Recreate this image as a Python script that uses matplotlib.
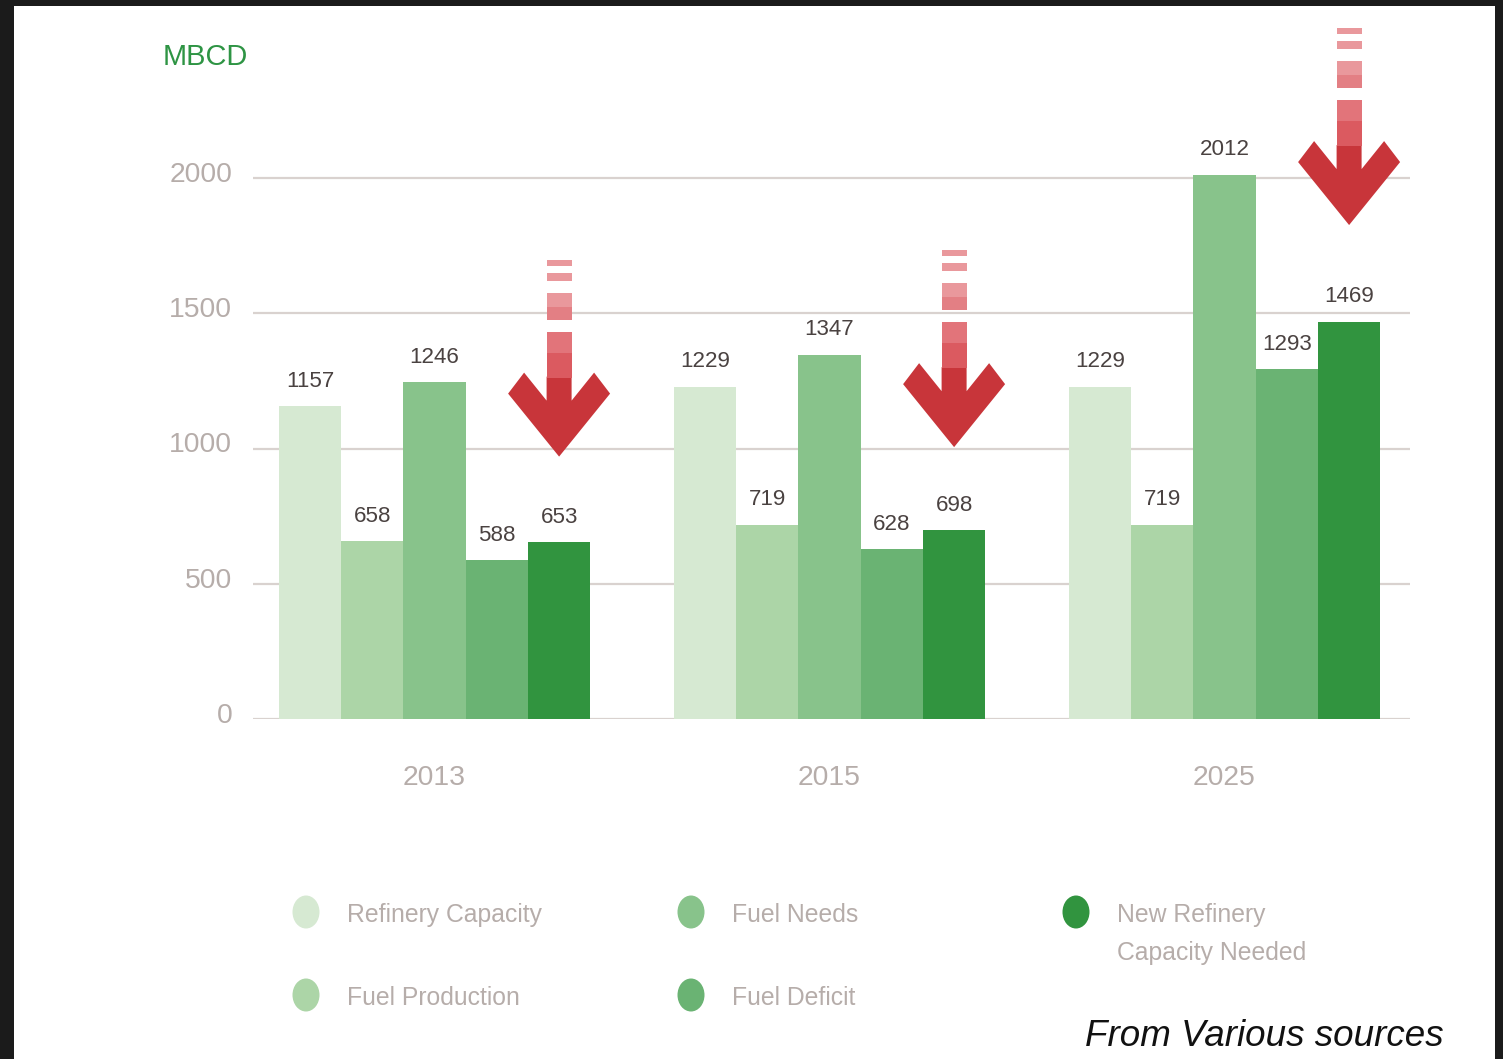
import numpy as np
import matplotlib
matplotlib.use("Agg")
import matplotlib.pyplot as plt
from matplotlib import font_manager
from matplotlib.patches import Polygon, Rectangle, Ellipse
from matplotlib.transforms import ScaledTranslation

# dados (MBCD)
years = ["2013", "2015", "2025"]
refinery_capacity = [1157, 1229, 1229]
fuel_production = [658, 719, 719]
fuel_needs = [1246, 1347, 2012]
fuel_deficit = [588, 628, 1293]
new_capacity = [653, 698, 1469]

series_names = ["Refinery Capacity", "Fuel Production", "Fuel Needs",
                "Fuel Deficit", "New Refinery\nCapacity Needed"]
series_colors = ["#d6e9d2", "#acd5a7", "#88c38b", "#6ab373", "#31943f"]

# posição das setas (ponta, em MBCD)
arrow_tips = [970, 1005, 1826]

# fonte estreita se existir
nomes = {f.name for f in font_manager.fontManager.ttflist}
if "Liberation Sans Narrow" in nomes:
    narrow, k = "Liberation Sans Narrow", 1.0
else:
    narrow, k = "Liberation Sans", 0.87

W, H = 1503, 1059
fig = plt.figure(figsize=(W / 100, H / 100), dpi=100)
fig.patch.set_facecolor("white")

ax_left, ax_right, ax_bottom = 253, 1410, 719
ymax = 2200
px_per_unit = 0.2705
ax = fig.add_axes([ax_left / W, (H - ax_bottom) / H,
                   (ax_right - ax_left) / W, ymax * px_per_unit / H])

group_step = 395.0
x0 = (ax_left - 434.5) / group_step
x1 = (ax_right - 434.5) / group_step
ax.set_xlim(x0, x1)
ax.set_ylim(0, ymax)

width = 62.3 / group_step
x = np.arange(len(years))
series = [refinery_capacity, fuel_production, fuel_needs, fuel_deficit, new_capacity]

for i, (vals, cor) in enumerate(zip(series, series_colors)):
    pos = x + (i - 2) * width
    ax.bar(pos, vals, width=width, color=cor, edgecolor="none", zorder=2)
    for xp, v in zip(pos, vals):
        ax.annotate(str(v), (xp, v), xytext=(0, 14), textcoords="offset points",
                    ha="center", va="baseline", fontsize=18.5 * k,
                    family=narrow, color="#4a4241", zorder=3)

# grelha e eixos
ax.set_yticks([0, 500, 1000, 1500, 2000])
ax.grid(axis="y", color="#d9d2cf", linewidth=1.6, zorder=0)
ax.set_axisbelow(True)
for s in ax.spines.values():
    s.set_visible(False)
ax.tick_params(axis="both", length=0)
ax.tick_params(axis="y", pad=15)
ax.tick_params(axis="x", pad=33)
ax.set_xticks(x)
ax.set_xticklabels(years)
for lab in ax.get_yticklabels() + ax.get_xticklabels():
    lab.set_fontfamily(narrow)
    lab.set_fontsize(23.5 * k)
    lab.set_color("#b6adaa")
for lab in ax.get_yticklabels():
    lab.set_transform(lab.get_transform() + ScaledTranslation(0, 6 / 100, fig.dpi_scale_trans))

# setas vermelhas
sx = (x1 - x0) / (ax_right - ax_left)
sy = 1 / px_per_unit
cabeca = [(-12.5, 80), (-12.5, 56), (-35, 84), (-51, 63), (0, 0),
          (51, 63), (35, 84), (12.5, 56), (12.5, 80)]
blocos = [(79, 104, "#db5a60"), (104, 125, "#e2747a"),
          (137, 150, "#e37f84"), (150, 164, "#e9989c"),
          (176, 184, "#e9989c"), (191, 197, "#e9989c")]
for xi, tip in zip(x, arrow_tips):
    xt = xi + 2 * width
    pts = [(xt + dx * sx, tip + dy * sy) for dx, dy in cabeca]
    ax.add_patch(Polygon(pts, closed=True, facecolor="#c8353a", edgecolor="none",
                         clip_on=False, zorder=4))
    for a, b, c in blocos:
        ax.add_patch(Rectangle((xt - 12.5 * sx, tip + a * sy), 25 * sx, (b - a) * sy,
                               facecolor=c, edgecolor="none", clip_on=False, zorder=4))

# camada em pixels para legenda, textos e moldura
ov = fig.add_axes([0, 0, 1, 1], zorder=5)
ov.set_xlim(0, W)
ov.set_ylim(H, 0)
ov.axis("off")

leg_pos = [(306, 912), (306, 995), (691, 912), (691, 995), (1076, 912)]
for (lx, ly), nome, cor in zip(leg_pos, series_names, series_colors):
    ov.add_patch(Ellipse((lx, ly), 27, 33, facecolor=cor, edgecolor="none"))
    for j, linha in enumerate(nome.split("\n")):
        ov.text(lx + 41, ly + 10 + j * 38, linha, ha="left", va="baseline",
                fontsize=20.5 * k, family=narrow, color="#b6adaa")

ov.text(163, 65, "MBCD", ha="left", va="baseline", fontsize=24 * k,
        family=narrow, color="#2e9444")
ov.text(1444, 1046, "From Various sources", ha="right", va="baseline",
        fontsize=26.5, family="Liberation Sans", style="italic", color="#111111")

# moldura escura
ov.add_patch(Rectangle((0, 0), W, 6, facecolor="#1b1b1b", edgecolor="none"))
ov.add_patch(Rectangle((0, 0), 14, H, facecolor="#1b1b1b", edgecolor="none"))
ov.add_patch(Rectangle((1495, 0), 8, H, facecolor="#1b1b1b", edgecolor="none"))

fig.savefig("out.png", dpi=100)
